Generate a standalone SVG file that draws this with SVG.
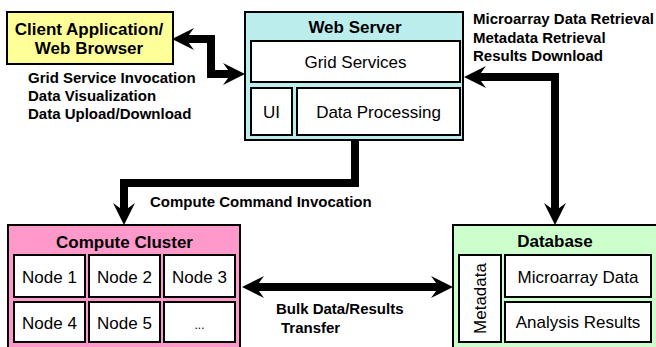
<svg xmlns="http://www.w3.org/2000/svg" width="656" height="347" viewBox="0 0 656 347">
<style>
.box{stroke:#000;stroke-width:2}
.in{fill:#fff;stroke:#000;stroke-width:2}
.t{font-family:"Liberation Sans",Arial,sans-serif;font-size:17px;fill:#000;text-anchor:middle}
.b{font-weight:bold}
.lbl{font-family:"Liberation Sans",Arial,sans-serif;font-size:15px;font-weight:bold;fill:#000}
.con{fill:none;stroke:#000;stroke-width:8;stroke-linejoin:miter;marker-end:url(#ah)}
</style>
<defs>
<marker id="ah" markerUnits="userSpaceOnUse" viewBox="-10 -12 26 24" refX="0" refY="0" markerWidth="26" markerHeight="24" orient="auto-start-reverse" overflow="visible">
<path d="M14,0 L-8,-11 L0,0 L-8,11 Z" fill="#000"/>
</marker>
</defs>
<rect width="656" height="347" fill="#fff"/>
<g id="connectors">
<path class="con" d="M186,39 H211 V74 H231" style="marker-start:url(#ah)"/>
<path class="con" d="M478,77 H555 V211" style="marker-start:url(#ah)"/>
<path class="con" d="M355,140 V183 H124 V211"/>
<path class="con" d="M256,287 H439" style="marker-start:url(#ah)"/>
</g>
<g id="client">
<rect class="box" x="7" y="12" width="166" height="52" fill="#FFFF99"/>
<text class="t b" x="89" y="35">Client Application/</text>
<text class="t b" x="89" y="54">Web Browser</text>
</g>
<g id="webserver">
<rect class="box" x="245" y="12" width="218" height="128" fill="#BCEDED"/>
<text class="t b" x="355" y="33">Web Server</text>
<rect class="in" x="251" y="41" width="209" height="41"/>
<text class="t" x="355.5" y="68">Grid Services</text>
<rect class="in" x="251" y="88" width="41" height="47"/>
<text class="t" x="271.5" y="118">UI</text>
<rect class="in" x="297" y="88" width="163" height="47"/>
<text class="t" x="378.5" y="118">Data Processing</text>
</g>
<g id="cluster">
<rect class="box" x="8" y="225" width="232" height="130" fill="#FF99CC"/>
<text class="t b" x="124.5" y="248">Compute Cluster</text>
<g id="node1"><rect class="in" x="14" y="255" width="71" height="42"/><text class="t" x="49.5" y="283">Node 1</text></g>
<g id="node2"><rect class="in" x="89" y="255" width="71" height="42"/><text class="t" x="124.5" y="283">Node 2</text></g>
<g id="node3"><rect class="in" x="164" y="255" width="71" height="42"/><text class="t" x="199.5" y="283">Node 3</text></g>
<g id="node4"><rect class="in" x="14" y="302" width="71" height="40"/><text class="t" x="49.5" y="329">Node 4</text></g>
<g id="node5"><rect class="in" x="89" y="302" width="71" height="40"/><text class="t" x="124.5" y="329">Node 5</text></g>
<g id="node6"><rect class="in" x="164" y="302" width="71" height="40"/><text class="t" x="199.5" y="329" style="font-size:12px">...</text></g>
</g>
<g id="database">
<rect class="box" x="453" y="225" width="210" height="130" fill="#CCFFCC"/>
<text class="t b" x="555" y="247">Database</text>
<rect class="in" x="459" y="255" width="42" height="87"/>
<text class="t" transform="translate(486,298.5) rotate(-90)">Metadata</text>
<rect class="in" x="505" y="255" width="146" height="42"/>
<text class="t" x="578" y="283">Microarray Data</text>
<rect class="in" x="505" y="302" width="146" height="40"/>
<text class="t" x="578" y="328">Analysis Results</text>
</g>
<g id="labels">
<text class="lbl" x="28" y="83">Grid Service Invocation</text>
<text class="lbl" x="28" y="101">Data Visualization</text>
<text class="lbl" x="28" y="119">Data Upload/Download</text>
<text class="lbl" x="473" y="24">Microarray Data Retrieval</text>
<text class="lbl" x="473" y="43">Metadata Retrieval</text>
<text class="lbl" x="473" y="61">Results Download</text>
<text class="lbl" x="150" y="207">Compute Command Invocation</text>
<text class="lbl" x="276" y="314">Bulk Data/Results</text>
<text class="lbl" x="281" y="333">Transfer</text>
</g>
</svg>
